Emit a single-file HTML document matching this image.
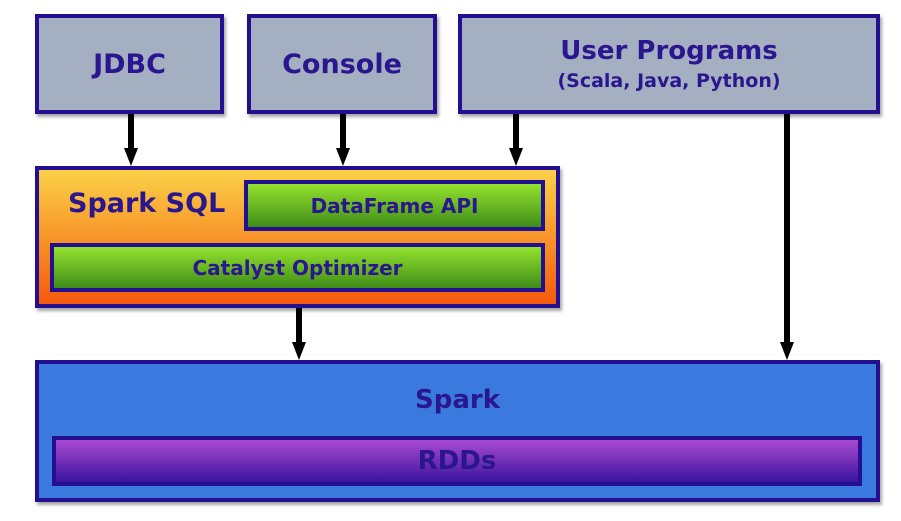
<!DOCTYPE html>
<html><head><style>
body{margin:0;width:901px;height:521px;background:#fff;position:relative;overflow:hidden;font-family:"DejaVu Sans","Liberation Sans",sans-serif;font-weight:bold;color:#2a168e}
.b{position:absolute;box-sizing:border-box;border:4px solid #221090;display:flex;align-items:center;justify-content:center;box-shadow:2px 3px 3px rgba(0,0,0,.35)}
.g{position:absolute;box-sizing:border-box;border:4px solid #221090;display:flex;align-items:center;justify-content:center;background:linear-gradient(#94e22e,#3f8d18)}
.t{position:absolute}
</style></head><body>
<div class="b" style="left:35px;top:14px;width:189px;height:100px;background:#a4afc2;font-size:27px">JDBC</div>
<div class="b" style="left:247px;top:14px;width:190px;height:100px;background:#a4afc2;font-size:27px">Console</div>
<div class="b" style="left:458px;top:14px;width:422px;height:100px;background:#a4afc2;flex-direction:column"><div style="font-size:26px">User Programs</div><div style="font-size:19px;margin-top:4px">(Scala, Java, Python)</div></div>
<div class="b" style="left:35px;top:166px;width:525px;height:142px;background:linear-gradient(#fbd148,#f5590c)"></div>
<div class="t" style="left:68px;top:188px;font-size:27px">Spark SQL</div>
<div class="g" style="left:244px;top:180px;width:301px;height:51px;font-size:20px">DataFrame API</div>
<div class="g" style="left:50px;top:243px;width:495px;height:49px;font-size:20px">Catalyst Optimizer</div>
<div class="b" style="left:35px;top:360px;width:845px;height:142px;background:#3a79de"></div>
<div class="t" style="left:0;width:915px;text-align:center;top:385px;font-size:26px">Spark</div>
<div class="g" style="left:52px;top:436px;width:810px;height:50px;font-size:26px;background:linear-gradient(#a84ad0,#3a14a0)">RDDs</div>
<svg style="position:absolute;left:0;top:0" width="901" height="521">
<g stroke="#000" stroke-width="6">
<line x1="131" y1="114" x2="131" y2="152"/><line x1="343" y1="114" x2="343" y2="152"/>
<line x1="516" y1="114" x2="516" y2="152"/><line x1="787" y1="114" x2="787" y2="346"/>
<line x1="299" y1="308" x2="299" y2="346"/></g>
<g fill="#000">
<polygon points="124,148 138,148 131,166"/><polygon points="336,148 350,148 343,166"/>
<polygon points="509,148 523,148 516,166"/><polygon points="780,342 794,342 787,360"/>
<polygon points="292,342 306,342 299,360"/></g>
</svg>
</body></html>
